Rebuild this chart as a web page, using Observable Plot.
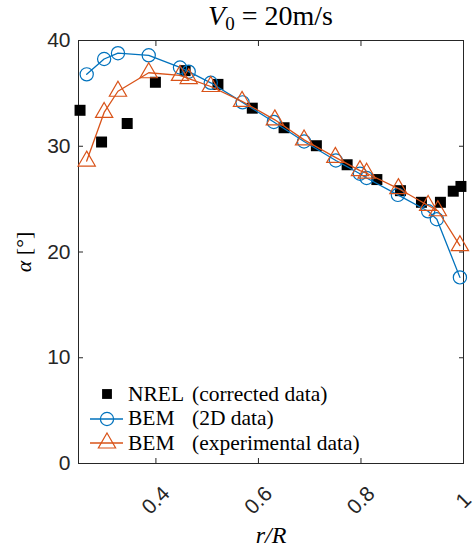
<!DOCTYPE html>
<html><head><meta charset="utf-8">
<script src="https://cdn.jsdelivr.net/npm/d3@7"></script>
<script src="https://cdn.jsdelivr.net/npm/@observablehq/plot@0.6"></script>
<style>
body{margin:0;background:#fff;}
#wrap{position:relative;width:475px;height:550px;overflow:hidden;background:#fff;}
#title{position:absolute;left:78px;top:0;width:385px;height:32px;text-align:center;font-family:"Liberation Serif","Times New Roman",serif;font-size:28px;line-height:32px;color:#000;}
#title sub{font-size:19px;vertical-align:-5px;line-height:0;}
#chart{position:absolute;left:0;top:30px;}
#legend{position:absolute;left:88px;top:382px;font-family:"Liberation Serif","Times New Roman",serif;font-size:21.5px;color:#000;}
.row{display:flex;align-items:center;height:24.5px;white-space:pre;}
.row svg{width:36px;height:24px;margin-right:4px;flex:none;}
.nm{display:inline-block;width:64px;}
</style></head>
<body><div id="wrap">
<div id="title"><i>V</i><sub>0</sub> = 20m/s</div>
<div id="chart"></div>
<div id="legend"></div>
</div>
<script>
// NREL (corrected data)
const nrelR = [0.252, 0.294, 0.344, 0.399, 0.457, 0.521, 0.588, 0.650, 0.713, 0.773, 0.831, 0.877, 0.918, 0.955, 0.980, 0.995];
const nrelAlpha = [33.4, 30.4, 32.15, 36.05, 37.15, 35.85, 33.6, 31.75, 30.05, 28.25, 26.85, 25.8, 24.7, 24.7, 25.75, 26.2];
// BEM (2D data)
const bem2dR = [0.265, 0.299, 0.326, 0.386, 0.447, 0.464, 0.507, 0.569, 0.630, 0.689, 0.751, 0.798, 0.811, 0.872, 0.931, 0.948, 0.993];
const bem2dAlpha = [36.8, 38.25, 38.8, 38.6, 37.45, 37.05, 36.0, 34.15, 32.3, 30.45, 28.65, 27.4, 27.0, 25.4, 23.85, 23.1, 17.6];
// BEM (experimental data)
const bemExpR = [0.265, 0.299, 0.326, 0.386, 0.447, 0.464, 0.507, 0.568, 0.632, 0.689, 0.750, 0.798, 0.811, 0.873, 0.931, 0.950, 0.993];
const bemExpAlpha = [28.6, 33.2, 35.2, 36.95, 36.7, 36.4, 35.65, 34.25, 32.5, 30.6, 28.95, 27.7, 27.45, 26.0, 24.4, 23.9, 20.6];

const xTicks = [0.4, 0.6, 0.8, 1];
const yTicks = [0, 10, 20, 30, 40];
const legendNames = ["NREL", "BEM", "BEM"];
const legendDescs = ["(corrected data)", "(2D data)", "(experimental data)"];

const blue = "#0072BD", orange = "#D95319", axisColor = "#262626";

const nrel = nrelR.map((r, i) => ({r, a: nrelAlpha[i]}));
const bem2d = bem2dR.map((r, i) => ({r, a: bem2dAlpha[i]}));
const bemExp = bemExpR.map((r, i) => ({r, a: bemExpAlpha[i]}));

const tickFont = {fontFamily: "Liberation Sans, Arial, sans-serif", fontSize: 21, fill: axisColor};
const serif = "Liberation Serif, Times New Roman, serif";

const plot = Plot.plot({
  width: 475, height: 520,
  marginTop: 10, marginBottom: 87, marginLeft: 78, marginRight: 12,
  x: {domain: [0.249, 1]},
  y: {domain: [0, 40]},
  style: {background: "transparent", overflow: "visible"},
  marks: [
    Plot.frame({stroke: axisColor, strokeWidth: 1}),
    Plot.axisY({ticks: yTicks, tickSize: -5, tickPadding: 13, label: null, stroke: axisColor, color: axisColor, ...tickFont}),
    Plot.axisY({anchor: "right", ticks: yTicks, tickSize: -5, tickFormat: () => "", label: null, stroke: axisColor}),
    Plot.axisX({ticks: xTicks, tickSize: -5, tickFormat: () => "", label: null, stroke: axisColor}),
    Plot.axisX({anchor: "top", ticks: xTicks, tickSize: -5, tickFormat: () => "", label: null, stroke: axisColor}),
    Plot.text(xTicks, {x: d => d, frameAnchor: "bottom", dy: 37, rotate: -45, textAnchor: "middle", lineAnchor: "middle", text: d => String(d), ...tickFont}),
    Plot.text(["r/R"], {frameAnchor: "bottom", dy: 72, textAnchor: "middle", lineAnchor: "middle", text: d => d, fontFamily: serif, fontStyle: "italic", fontSize: 24, fill: "#000"}),
    Plot.text(["α [°]"], {frameAnchor: "left", dx: -55, rotate: -90, textAnchor: "middle", lineAnchor: "middle", text: d => d, fontFamily: serif, fontSize: 22, fill: "#000"}),
    Plot.dot(nrel, {x: "r", y: "a", symbol: "square", r: 6.2, fill: "#000", stroke: "none"}),
    Plot.line(bem2d, {x: "r", y: "a", stroke: blue, strokeWidth: 1.3}),
    Plot.dot(bem2d, {x: "r", y: "a", symbol: "circle", r: 6.6, fill: "none", stroke: blue, strokeWidth: 1.2}),
    Plot.line(bemExp, {x: "r", y: "a", stroke: orange, strokeWidth: 1.3}),
    Plot.dot(bemExp, {x: "r", y: "a", symbol: "triangle", r: 6.4, fill: "none", stroke: orange, strokeWidth: 1.2})
  ]
});
document.getElementById("chart").appendChild(plot);

// italic alpha in y label
d3.select(plot).selectAll("text").filter(function(){ return this.textContent === "α [°]"; })
  .each(function(){
    const t = d3.select(this);
    t.text(null);
    t.append("tspan").attr("font-style", "italic").text("α");
    t.append("tspan").text(" [°]");
  });

// legend
const legend = d3.select("#legend");
const markers = ["square", "circle", "triangle"];
const colors = ["#000", blue, orange];
legendNames.forEach((name, i) => {
  const row = legend.append("div").attr("class", "row");
  const svg = row.append("svg");
  if (i > 0) svg.append("line").attr("x1", 2).attr("x2", 35).attr("y1", 12).attr("y2", 12).attr("stroke", colors[i]).attr("stroke-width", 1.3);
  const sym = {square: d3.symbolSquare, circle: d3.symbolCircle, triangle: d3.symbolTriangle}[markers[i]];
  const size = i === 0 ? 6.2 * 6.2 * Math.PI * 0.8 : (i === 1 ? 6.6 * 6.6 * Math.PI : 6.4 * 6.4 * Math.PI);
  svg.append("path").attr("d", d3.symbol(sym, size)()).attr("transform", "translate(19,12)")
    .attr("fill", i === 0 ? "#000" : "none").attr("stroke", i === 0 ? "none" : colors[i]).attr("stroke-width", 1.2);
  row.append("span").attr("class", "nm").text(name);
  row.append("span").text(legendDescs[i]);
});
</script>
</body></html>
